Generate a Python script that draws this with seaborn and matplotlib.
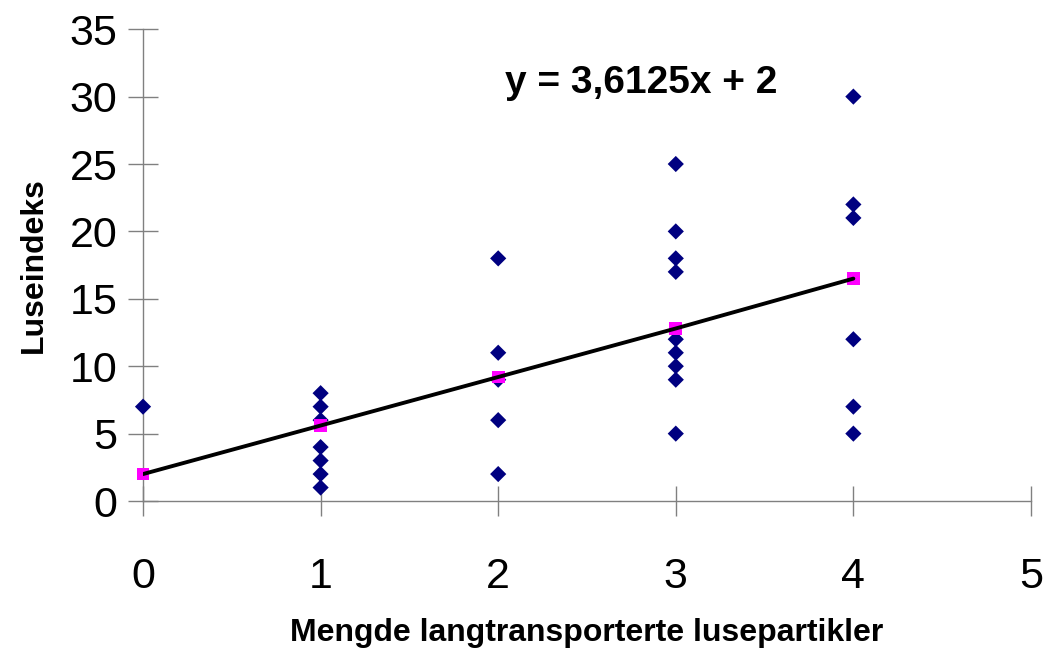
import matplotlib
matplotlib.use("Agg")
import matplotlib.pyplot as plt
import seaborn as sns
import pandas as pd

# observed points (Mengde, Luseindeks)
mengde = [0,
          1, 1, 1, 1, 1, 1, 1,
          2, 2, 2, 2, 2,
          3, 3, 3, 3, 3, 3, 3, 3, 3,
          4, 4, 4, 4, 4, 4]
luseindeks = [7,
              8, 7, 6, 4, 3, 2, 1,
              18, 11, 9, 6, 2,
              25, 20, 18, 17, 12, 11, 10, 9, 5,
              30, 22, 21, 12, 7, 5]

# fitted values from the trend line
fit_x = [0, 1, 2, 3, 4]
fit_y = [2, 5.6, 9.2, 12.8, 16.5]

equation = "y = 3,6125x + 2"
x_ticks = [0, 1, 2, 3, 4, 5]
y_ticks = [0, 5, 10, 15, 20, 25, 30, 35]

sns.set_style("white")
plt.rcParams['font.family'] = ['Liberation Sans', 'DejaVu Sans']
plt.rcParams['text.color'] = 'black'
plt.rcParams['axes.labelcolor'] = 'black'

df = pd.DataFrame({'x': mengde, 'y': luseindeks})
df_fit = pd.DataFrame({'x': fit_x, 'y': fit_y})

fig = plt.figure(figsize=(10.44, 6.49), dpi=100)
ax = fig.add_axes([0.137, 0.228, 0.8505, 0.727])

sns.scatterplot(data=df, x='x', y='y', marker='D', s=68, color='#000080',
                edgecolor='none', ax=ax, zorder=3, clip_on=False)
sns.scatterplot(data=df_fit, x='x', y='y', marker='s', s=85, color='#FF00FF',
                edgecolor='none', ax=ax, zorder=4, clip_on=False)
sns.lineplot(data=df_fit, x='x', y='y', color='black', linewidth=2.8,
             ax=ax, zorder=5)

ax.set_xlim(0, 5)
ax.set_ylim(0, 35)
ax.set_xticks(x_ticks)
ax.set_yticks(y_ticks)
ax.set_xticklabels([str(v) for v in x_ticks])
ax.set_yticklabels([str(v) for v in y_ticks])

for side in ['top', 'right']:
    ax.spines[side].set_visible(False)
for side in ['left', 'bottom']:
    ax.spines[side].set_color('#808080')
    ax.spines[side].set_linewidth(1.0)

ax.tick_params(axis='both', which='major', bottom=True, left=True,
               direction='inout', length=21, width=1.0,
               color='#808080', labelsize=31, labelcolor='black')
ax.tick_params(axis='x', pad=30)
ax.tick_params(axis='y', pad=8)

ax.set_xlabel("Mengde langtransporterte lusepartikler", fontsize=23,
              fontweight='bold', labelpad=15)
ax.set_ylabel("Luseindeks", fontsize=23, fontweight='bold', labelpad=15)

ax.text(0.561, 0.887, equation, transform=ax.transAxes, ha='center', va='center',
        fontsize=28, fontweight='bold')

plt.savefig("out.png", dpi=100)
plt.close()
